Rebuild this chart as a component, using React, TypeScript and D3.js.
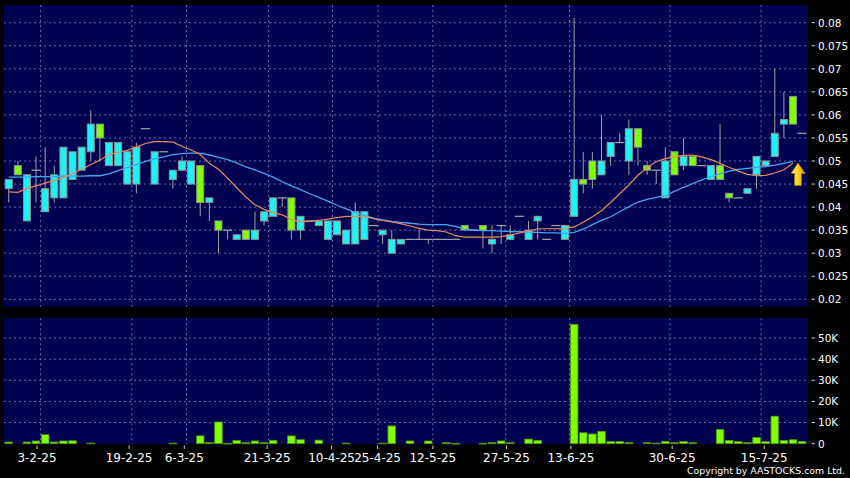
import React from 'react';
import * as d3 from 'd3';

const openP = [
  0.044, 0.049, 0.037, 0.048, 0.039, 0.042, 0.042, 0.046, 0.048, 0.052,
  0.058, 0.049, 0.049, 0.045, 0.045, 0.057, 0.045, 0.052, 0.046, 0.048,
  0.045, 0.049, 0.041, 0.037, 0.035, 0.033, 0.035, 0.033, 0.037, 0.038,
  0.042, 0.042, 0.035, 0.037, 0.036, 0.033, 0.034, 0.032, 0.032, 0.033,
  0.036, 0.034, 0.030, 0.032, 0.033, 0.033, 0.033, 0.033, 0.033, 0.033,
  0.036, 0.035, 0.036, 0.032, 0.036, 0.033, 0.038, 0.033, 0.037, 0.033,
  0.036, 0.033, 0.038, 0.046, 0.050, 0.047, 0.051, 0.054, 0.050, 0.057,
  0.049, 0.048, 0.042, 0.052, 0.049, 0.051, 0.049, 0.046, 0.049, 0.043,
  0.042, 0.043, 0.047, 0.049, 0.051, 0.058, 0.064, 0.056,
];
const highP = [
  0.046, 0.050, 0.047, 0.051, 0.053, 0.049, 0.053, 0.052, 0.053, 0.061,
  0.058, 0.054, 0.054, 0.052, 0.054, 0.057, 0.052, 0.052, 0.048, 0.051,
  0.050, 0.049, 0.042, 0.037, 0.035, 0.034, 0.035, 0.039, 0.039, 0.042,
  0.042, 0.042, 0.038, 0.037, 0.037, 0.037, 0.037, 0.035, 0.041, 0.039,
  0.036, 0.035, 0.035, 0.033, 0.033, 0.035, 0.033, 0.033, 0.033, 0.033,
  0.036, 0.035, 0.036, 0.036, 0.036, 0.036, 0.038, 0.037, 0.038, 0.033,
  0.036, 0.036, 0.081, 0.052, 0.052, 0.060, 0.054, 0.056, 0.059, 0.057,
  0.050, 0.048, 0.053, 0.052, 0.055, 0.051, 0.049, 0.049, 0.058, 0.043,
  0.042, 0.044, 0.051, 0.050, 0.070, 0.065, 0.064, 0.056,
];
const lowP = [
  0.041, 0.047, 0.037, 0.041, 0.039, 0.041, 0.042, 0.046, 0.048, 0.050,
  0.050, 0.049, 0.049, 0.045, 0.043, 0.057, 0.045, 0.052, 0.044, 0.048,
  0.045, 0.038, 0.037, 0.030, 0.033, 0.033, 0.033, 0.033, 0.036, 0.038,
  0.040, 0.033, 0.033, 0.037, 0.036, 0.033, 0.034, 0.032, 0.032, 0.033,
  0.036, 0.032, 0.030, 0.032, 0.033, 0.033, 0.032, 0.033, 0.033, 0.033,
  0.035, 0.035, 0.031, 0.030, 0.032, 0.033, 0.038, 0.033, 0.033, 0.033,
  0.036, 0.033, 0.038, 0.043, 0.044, 0.047, 0.049, 0.054, 0.047, 0.049,
  0.047, 0.045, 0.042, 0.047, 0.048, 0.049, 0.049, 0.046, 0.046, 0.041,
  0.042, 0.043, 0.044, 0.049, 0.051, 0.055, 0.058, 0.056,
];
const closeP = [
  0.046, 0.047, 0.047, 0.048, 0.044, 0.047, 0.053, 0.052, 0.053, 0.058,
  0.055, 0.054, 0.054, 0.052, 0.053, 0.057, 0.052, 0.052, 0.048, 0.050,
  0.050, 0.041, 0.042, 0.035, 0.035, 0.034, 0.033, 0.035, 0.039, 0.042,
  0.042, 0.035, 0.038, 0.037, 0.037, 0.037, 0.037, 0.035, 0.039, 0.039,
  0.036, 0.035, 0.033, 0.033, 0.033, 0.033, 0.033, 0.033, 0.033, 0.033,
  0.035, 0.035, 0.035, 0.033, 0.036, 0.034, 0.038, 0.035, 0.038, 0.033,
  0.036, 0.036, 0.046, 0.045, 0.046, 0.050, 0.054, 0.054, 0.057, 0.053,
  0.048, 0.048, 0.050, 0.047, 0.051, 0.049, 0.049, 0.049, 0.046, 0.042,
  0.042, 0.044, 0.051, 0.050, 0.056, 0.059, 0.058, 0.056,
];
const volumes = [
  800, 0, 800, 1300, 4300, 800, 1300, 1400, 0, 300,
  0, 0, 0, 0, 0, 0, 0, 0, 300, 0,
  0, 3700, 600, 10300, 200, 1600, 600, 1300, 600, 1600,
  0, 3700, 1900, 0, 1700, 0, 0, 300, 0, 0,
  0, 300, 8400, 0, 1300, 0, 1300, 0, 500, 200,
  0, 0, 200, 500, 1300, 500, 0, 2200, 1600, 0,
  0, 0, 56500, 5200, 4600, 5900, 1000, 1000, 600, 0,
  500, 300, 1100, 500, 1100, 500, 0, 0, 6800, 1600,
  1000, 600, 3000, 1000, 13000, 1600, 1900, 1100,
];
const maShort = [
  0.0433, 0.0432, 0.0440, 0.0446, 0.0452, 0.0458, 0.0464, 0.0473, 0.0482, 0.0492,
  0.0502, 0.0514, 0.0519, 0.0523, 0.0530, 0.0538, 0.0542, 0.0542, 0.0541, 0.0532,
  0.0524, 0.0514, 0.0495, 0.0482, 0.0463, 0.0442, 0.0422, 0.0405, 0.0395, 0.0388,
  0.0383, 0.0373, 0.0368, 0.0369, 0.0371, 0.0374, 0.0377, 0.0380, 0.0380, 0.0380,
  0.0375, 0.0371, 0.0368, 0.0364, 0.0359, 0.0354, 0.0350, 0.0349, 0.0346, 0.0338,
  0.0335, 0.0335, 0.0335, 0.0335, 0.0336, 0.0339, 0.0344, 0.0348, 0.0353, 0.0353,
  0.0353, 0.0354, 0.0357, 0.0367, 0.0379, 0.0392, 0.0410, 0.0429, 0.0448, 0.0469,
  0.0486, 0.0499, 0.0505, 0.0509, 0.0512, 0.0513, 0.0509, 0.0503, 0.0495, 0.0486,
  0.0478, 0.0471, 0.0468, 0.0469, 0.0474, 0.0481, 0.0495,
];
const maLong = [
  0.0465, 0.0465, 0.0465, 0.0466, 0.0466, 0.0466, 0.0467, 0.0467, 0.0467, 0.0468,
  0.0468, 0.0472, 0.0479, 0.0486, 0.0492, 0.0499, 0.0505, 0.0509, 0.0514, 0.0516,
  0.0517, 0.0517, 0.0513, 0.0508, 0.0503, 0.0496, 0.0487, 0.0481, 0.0473, 0.0465,
  0.0455, 0.0446, 0.0438, 0.0429, 0.0421, 0.0413, 0.0404, 0.0396, 0.0388, 0.0382,
  0.0376, 0.0372, 0.0369, 0.0367, 0.0365, 0.0363, 0.0362, 0.0362, 0.0362, 0.0358,
  0.0352, 0.0350, 0.0349, 0.0349, 0.0348, 0.0347, 0.0347, 0.0346, 0.0345, 0.0344,
  0.0344, 0.0343, 0.0345, 0.0352, 0.0362, 0.0371, 0.0379, 0.0390, 0.0401, 0.0411,
  0.0417, 0.0421, 0.0425, 0.0434, 0.0443, 0.0451, 0.0459, 0.0466, 0.0472, 0.0478,
  0.0482, 0.0484, 0.0486, 0.0488, 0.0491, 0.0495, 0.0499,
];
const tickIndex = [3, 13, 19, 28, 35, 40, 46, 54, 61, 72, 82];
const tickLabels = ['3-2-25', '19-2-25', '6-3-25', '21-3-25', '10-4-25', '25-4-25', '12-5-25', '27-5-25', '13-6-25', '30-6-25', '15-7-25'];
const priceTicks = [0.02, 0.025, 0.03, 0.035, 0.04, 0.045, 0.05, 0.055, 0.06, 0.065, 0.07, 0.075, 0.08];
const volTicks = [0, 10000, 20000, 30000, 40000, 50000];
const volTickLabels = ['0', '10K', '20K', '30K', '40K', '50K'];

const PANEL = '#000050';
const GRID = '#6c6ca4';
const CYAN = '#1ef2f2';
const LIME = '#80ff00';
const FONT = 'DejaVu Sans, sans-serif';

export default function App() {
  const N = openP.length;
  const idx = d3.range(N);
  const x = d3.scaleBand<number>().domain(idx).range([4.14, 806.7]).paddingInner(0).paddingOuter(0);
  const step = x.step();
  const cx = (i: number) => (x(i) as number) + x.bandwidth() / 2;
  const y = d3.scaleLinear().domain([0.02, 0.08]).range([299.3, 22.7]);
  const yv = d3.scaleLinear().domain([0, 50000]).range([443.7, 338]);
  const xl = d3.scaleLinear().domain([0, N - 1]).range([9.4, 9.4 + (N - 1) * 9.205]);

  const left = 4, right = 808;
  const pTop = 5, pBot = 306.7, vTop = 318.3, vBot = 444;

  const lineS = d3.line<number>().x((_, i) => cx(i)).y((d) => y(d));
  const bw = 7;

  const arrowX = cx(86) + 5;
  const tipY = y(maLong[86]) + 1.5;
  const arrowPath = `M${arrowX},${tipY} L${arrowX + 7},${tipY + 10.5} L${arrowX + 3.4},${tipY + 10.5} L${arrowX + 3.4},${tipY + 22.5} L${arrowX - 3.4},${tipY + 22.5} L${arrowX - 3.4},${tipY + 10.5} L${arrowX - 7},${tipY + 10.5} Z`;

  return (
    <div style={{ position: 'fixed', left: 0, top: 0 }}>
      <svg width={850} height={478} style={{ display: 'block', background: '#000' }}>
        <defs>
          <linearGradient id="gold" x1="0" y1="0" x2="1" y2="0">
            <stop offset="0" stopColor="#fff390" />
            <stop offset="0.45" stopColor="#ffd52a" />
            <stop offset="1" stopColor="#e2a200" />
          </linearGradient>
        </defs>
        <rect x={0} y={0} width={850} height={478} fill="#000" />
        {/* price panel */}
        <rect x={left} y={pTop} width={right - left} height={pBot - pTop} fill={PANEL} />
        {priceTicks.map((t) => (
          <line key={'pg' + t} x1={left} x2={right} y1={y(t)} y2={y(t)} stroke={GRID} strokeDasharray="2,3" strokeWidth={1} />
        ))}
        {tickIndex.map((t) => (
          <line key={'pv' + t} x1={(x(t) as number) + step} x2={(x(t) as number) + step} y1={pTop} y2={pBot} stroke={GRID} strokeDasharray="2,3" strokeWidth={1} />
        ))}
        {/* volume panel */}
        <rect x={left} y={vTop} width={right - left} height={vBot - vTop} fill={PANEL} />
        {volTicks.slice(1).map((t) => (
          <line key={'vg' + t} x1={left} x2={right} y1={yv(t)} y2={yv(t)} stroke={GRID} strokeDasharray="2,3" strokeWidth={1} />
        ))}
        {tickIndex.map((t) => (
          <line key={'vv' + t} x1={(x(t) as number) + step} x2={(x(t) as number) + step} y1={vTop} y2={vBot} stroke={GRID} strokeDasharray="2,3" strokeWidth={1} />
        ))}
        {/* volume bars */}
        {volumes.map((v, i) =>
          v > 0 ? (
            <rect key={'vb' + i} x={cx(i) - 3.8} y={yv(v)} width={7.6} height={Math.max(0.8, yv(0) - yv(v))} fill={LIME} stroke="#4c8f0a" strokeWidth={0.8} />
          ) : null
        )}
        {/* candles */}
        {idx.map((i) => {
          const o = openP[i], c = closeP[i], h = highP[i], l = lowP[i];
          const xc = cx(i);
          const wick = h > l ? (
            <line x1={xc} x2={xc} y1={y(h)} y2={y(l)} stroke="#a2a2a2" strokeWidth={1} />
          ) : null;
          if (o === c) {
            return (
              <g key={'c' + i}>
                {wick}
                <line x1={xc - 4.5} x2={xc + 4.5} y1={y(c)} y2={y(c)} stroke="#a8a8a8" strokeWidth={1.2} />
              </g>
            );
          }
          const top = y(Math.max(o, c));
          const bot = y(Math.min(o, c));
          return (
            <g key={'c' + i}>
              {wick}
              <rect x={xc - bw / 2} y={top} width={bw} height={bot - top} fill={c > o ? CYAN : LIME} stroke="#8a9696" strokeWidth={1} />
            </g>
          );
        })}
        {/* moving averages */}
        <path d={lineS(maLong) || ''} fill="none" stroke="#43a6f2" strokeWidth={1.3} />
        <path d={lineS(maShort) || ''} fill="none" stroke="#e88a5c" strokeWidth={1.2} />
        {/* arrow */}
        <path d={arrowPath} fill="url(#gold)" stroke="#b07a00" strokeWidth={0.8} />
        {/* price axis */}
        {priceTicks.map((t) => (
          <g key={'pl' + t}>
            <line x1={811.5} x2={815} y1={y(t)} y2={y(t)} stroke="#cfcfcf" strokeWidth={1} />
            <text x={818} y={y(t) + 3.8} fill="#ffffff" fontSize={10.5} fontFamily={FONT}>
              {String(+t.toFixed(3))}
            </text>
          </g>
        ))}
        {/* volume axis */}
        {volTicks.map((t, k) => (
          <g key={'vl' + t}>
            <line x1={811.5} x2={815} y1={yv(t)} y2={yv(t)} stroke="#cfcfcf" strokeWidth={1} />
            <text x={818} y={yv(t) + 3.8} fill="#ffffff" fontSize={10.5} fontFamily={FONT}>
              {volTickLabels[k]}
            </text>
          </g>
        ))}
        {/* x axis */}
        {tickIndex.map((t, k) => (
          <g key={'xl' + t}>
            <line x1={xl(t)} x2={xl(t)} y1={445.5} y2={449} stroke="#cfcfcf" strokeWidth={1} />
            <text x={xl(t)} y={462} fill="#ffffff" fontSize={12} fontFamily={FONT} textAnchor="middle">
              {tickLabels[k]}
            </text>
          </g>
        ))}
        <text x={845} y={473.5} fill="#ffffff" fontSize={9.5} fontFamily={FONT} textAnchor="end" textLength={158} lengthAdjust="spacingAndGlyphs">
          Copyright by AASTOCKS.com Ltd.
        </text>
      </svg>
    </div>
  );
}
